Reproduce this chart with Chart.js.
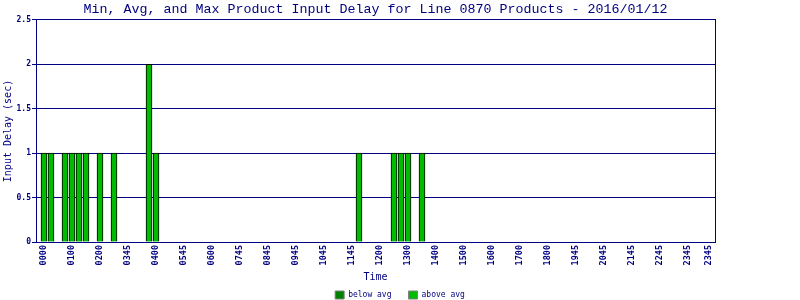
<!DOCTYPE html>
<html>
<head>
<meta charset="utf-8">
<script src="https://cdn.jsdelivr.net/npm/chart.js@4/dist/chart.umd.min.js"></script>
<style>
  html, body { margin: 0; padding: 0; background: #fff; }
  #wrap { width: 800px; height: 300px; }
</style>
</head>
<body>
<div id="wrap"><canvas id="delayChart" width="800" height="300"></canvas></div>
<script>
// 15-minute slots (0..95) that have a reading, and the delay in each
const slotIndex = [0, 1, 3, 4, 5, 6, 8, 10, 15, 16, 45, 50, 51, 52, 54];
const delaySec  = [1, 1, 1, 1, 1, 1, 1, 1, 2, 1, 1, 1, 1, 1, 1];

// x tick labels as printed on the chart, and the slot each one sits on
const tickSlots = [0, 4, 8, 12, 16, 20, 24, 28, 32, 36, 40, 44, 48, 52, 56, 60, 64, 68, 72, 76, 80, 84, 88, 92, 95];
const tickLabels = ['0000', '0100', '0200', '0345', '0400', '0545', '0600', '0745', '0845', '0945', '1045', '1145',
  '1200', '1300', '1400', '1500', '1600', '1700', '1800', '1945', '2045', '2145', '2245', '2345', '2345'];

const seriesNames = ['below avg', 'above avg'];
const yTicks = { min: 0, max: 2.5, step: 0.5 };

const navy = '#000080';
Chart.defaults.color = navy;
Chart.defaults.font.family = 'DejaVu Sans Mono';

const ctx = document.getElementById('delayChart').getContext('2d');
window.delayChart = new Chart(ctx, {
  type: 'bar',
  data: {
    datasets: [{
      label: seriesNames[0],
      data: [],
      backgroundColor: '#008000',
      borderColor: '#000000',
      borderWidth: 1
    }, {
      label: seriesNames[1],
      data: slotIndex.map((s, i) => ({ x: s, y: delaySec[i] })),
      backgroundColor: '#00bb00',
      borderColor: '#000000',
      borderWidth: 1
    }]
  },
  options: {
    responsive: false,
    animation: false,
    datasets: { bar: { grouped: false, barThickness: 6 } },
    layout: { padding: 0 },
    plugins: {
      title: {
        display: true,
        text: 'Min, Avg, and Max Product Input Delay for Line 0870 Products - 2016/01/12',
        fullSize: false,
        color: navy,
        font: { family: 'Liberation Mono', size: 13.33, weight: 'normal' },
        padding: { top: 1, bottom: 3 }
      },
      legend: {
        position: 'bottom',
        maxHeight: 26,
        labels: {
          boxWidth: 9,
          boxHeight: 8,
          padding: 17,
          color: navy,
          font: { size: 8 },
          generateLabels: chart => Chart.defaults.plugins.legend.labels.generateLabels(chart)
            .map(l => ({ ...l, strokeStyle: '#808080', lineWidth: 1 }))
        }
      },
      tooltip: { enabled: false }
    },
    scales: {
      x: {
        type: 'linear',
        offset: false,
        min: -8 / 7,
        max: -8 / 7 + 97,
        grid: { display: false, drawTicks: false },
        border: { display: true, color: navy },
        afterBuildTicks: scale => { scale.ticks = tickSlots.map(v => ({ value: v })); },
        afterFit: scale => { scale.height = 32; },
        ticks: {
          autoSkip: false,
          minRotation: 90,
          maxRotation: 90,
          padding: 3,
          font: { size: 8.5, weight: 'bold' },
          callback: (v, i) => tickLabels[i]
        },
        title: {
          display: true,
          text: 'Time',
          font: { size: 10 },
          padding: { top: 0, bottom: -9 }
        }
      },
      y: {
        min: yTicks.min,
        max: yTicks.max,
        afterFit: scale => { scale.width = 36; },
        grid: { color: navy, tickColor: navy, tickLength: 4 },
        border: { color: navy },
        ticks: {
          stepSize: yTicks.step,
          padding: 1,
          font: { size: 8, weight: 'bold' },
          callback: v => String(v)
        },
        title: {
          display: true,
          text: 'Input Delay (sec)',
          font: { size: 10 },
          padding: { top: 2, bottom: 0 }
        }
      },
      y2: {
        position: 'right',
        grid: { display: false },
        ticks: { display: false },
        border: { display: true, color: navy },
        afterFit: scale => { scale.width = 85; }
      }
    }
  }
});
</script>
</body>
</html>
